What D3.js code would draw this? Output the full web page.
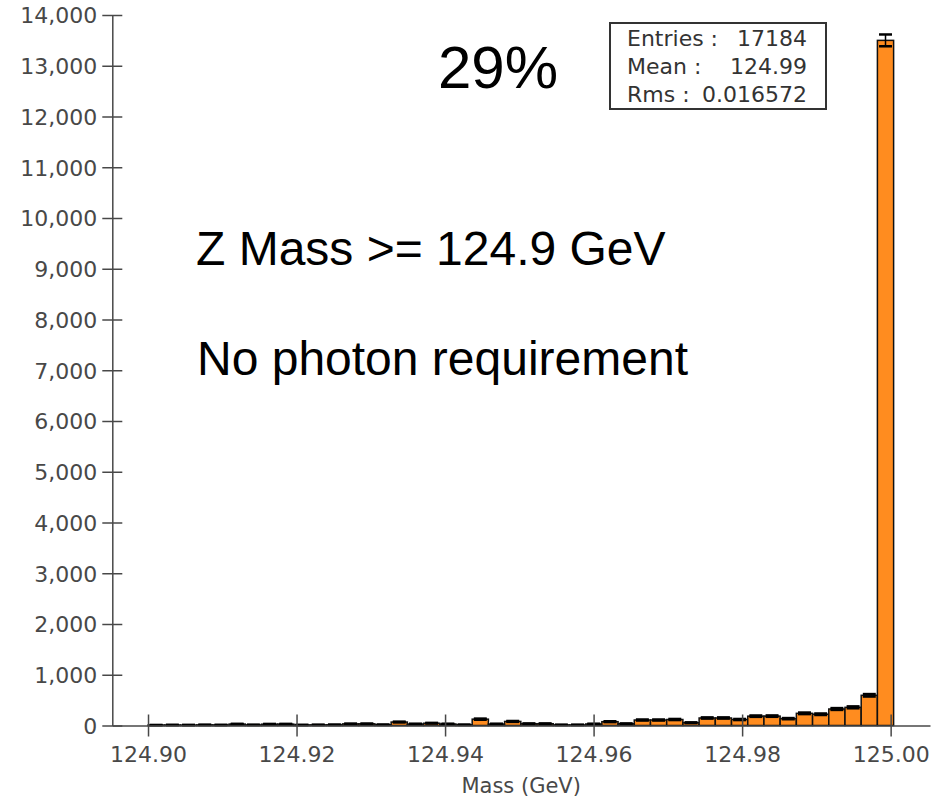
<!DOCTYPE html>
<html>
<head>
<meta charset="utf-8">
<script src="https://cdn.jsdelivr.net/npm/d3@7"></script>
<style>
  html, body { margin: 0; padding: 0; background: #fff; }
  svg { display: block; }
</style>
</head>
<body>
<div id="chart"></div>
<script>
// histogram of Z mass, 46 bins between lowest and highest entry
var BIN_RANGE = [124.9, 125.0004];
var counts = [8, 10, 9, 12, 10, 28, 12, 26, 27, 10,
              12, 14, 32, 33, 15, 68, 30, 45, 30, 14,
              125, 30, 80, 35, 35, 12, 12, 30, 75, 35,
              108, 108, 118, 55, 148, 148, 118, 184, 185, 135,
              240, 222, 325, 358, 595, 13500];
var xTicks = [124.90, 124.92, 124.94, 124.96, 124.98, 125.00];
var yTicks = [0, 1000, 2000, 3000, 4000, 5000, 6000, 7000, 8000, 9000, 10000, 11000, 12000, 13000, 14000];
var statLabels = ['Entries :', 'Mean :', 'Rms :'];
var statValues = ['17184', '124.99', '0.016572'];
var notes = ['29%', 'Z Mass >= 124.9 GeV', 'No photon requirement'];

var WIDTH = 933;
var HEIGHT = 798;
var MARGIN = { top: 15, right: 3, bottom: 72.5, left: 112.3 };
var X_DOMAIN = [124.89519, 125.0053];
var Y_DOMAIN = [0, 14000];
var BAR_COLOR = '#ff8c1f';
var AXIS_COLOR = '#484848';
var TICK_FONT = 22;

var plotW = WIDTH - MARGIN.left - MARGIN.right;
var plotH = HEIGHT - MARGIN.top - MARGIN.bottom;

var x = d3.scaleLinear().domain(X_DOMAIN).range([0, plotW]);
var y = d3.scaleLinear().domain(Y_DOMAIN).range([plotH, 0]);

var binW = (BIN_RANGE[1] - BIN_RANGE[0]) / counts.length;
var bins = counts.map(function (c, i) {
    return { x0: BIN_RANGE[0] + i * binW, x1: BIN_RANGE[0] + (i + 1) * binW, n: c, err: Math.sqrt(c) };
});

var svg = d3.select('#chart').append('svg')
    .attr('width', WIDTH)
    .attr('height', HEIGHT);

var g = svg.append('g')
    .attr('transform', 'translate(' + MARGIN.left + ',' + MARGIN.top + ')');

/** bars */
g.append('g').selectAll('rect').data(bins).enter().append('rect')
    .attr('x', function (d) { return x(d.x0); })
    .attr('width', function (d) { return x(d.x1) - x(d.x0); })
    .attr('y', function (d) { return y(d.n); })
    .attr('height', function (d) { return y(0) - y(d.n); })
    .attr('fill', BAR_COLOR)
    .attr('stroke', '#111')
    .attr('stroke-width', 1.5);

/** error bars: caps at n +- sqrt(n) and a centre line */
var errs = g.append('g').attr('stroke', '#000').attr('stroke-width', 2.5);
bins.forEach(function (d) {
    var cx = (x(d.x0) + x(d.x1)) / 2;
    var half = (x(d.x1) - x(d.x0)) * 0.4;
    errs.append('line')
        .attr('stroke-width', 1.5)
        .attr('x1', cx).attr('x2', cx)
        .attr('y1', y(d.n + d.err)).attr('y2', y(Math.max(0, d.n - d.err)));
    [d.n + d.err, Math.max(0, d.n - d.err)].forEach(function (v) {
        errs.append('line')
            .attr('x1', cx - half).attr('x2', cx + half)
            .attr('y1', y(v)).attr('y2', y(v));
    });
});

/** axes */
function styleAxis(sel) {
    sel.select('.domain').attr('stroke', AXIS_COLOR).attr('stroke-width', 1.5);
    sel.selectAll('.tick line').attr('stroke', AXIS_COLOR).attr('stroke-width', 1.5);
    sel.selectAll('.tick text')
        .attr('fill', AXIS_COLOR)
        .style('font-family', 'DejaVu Sans, sans-serif')
        .style('font-size', TICK_FONT + 'px');
}

var xAxis = g.append('g')
    .attr('transform', 'translate(0,' + plotH + ')')
    .call(d3.axisBottom(x).tickValues(xTicks).tickFormat(d3.format('.2f'))
        .tickSizeInner(11).tickSizeOuter(0).tickPadding(10));
xAxis.selectAll('.tick line').attr('y1', -11);
styleAxis(xAxis);

var yAxis = g.append('g')
    .call(d3.axisLeft(y).tickValues(yTicks).tickFormat(d3.format(','))
        .tickSizeInner(10).tickSizeOuter(0).tickPadding(5));
yAxis.selectAll('.tick line').attr('x1', 10);
yAxis.selectAll('.tick text').attr('dy', '0.36em');
styleAxis(yAxis);

g.append('text')
    .attr('x', plotW / 2)
    .attr('y', plotH + 67.5)
    .attr('text-anchor', 'middle')
    .attr('fill', AXIS_COLOR)
    .style('font-family', 'DejaVu Sans, sans-serif')
    .style('font-size', '21px')
    .text('Mass (GeV)');

/** statistics box */
var box = svg.append('g').attr('transform', 'translate(610,23)');
box.append('rect')
    .attr('width', 216)
    .attr('height', 86)
    .attr('fill', '#fff')
    .attr('stroke', '#333')
    .attr('stroke-width', 2);
statLabels.forEach(function (lab, i) {
    box.append('text')
        .attr('x', 17)
        .attr('y', 23 + i * 27.8)
        .attr('fill', '#333')
        .style('font-family', 'DejaVu Sans, sans-serif')
        .style('font-size', '22px')
        .text(lab);
    box.append('text')
        .attr('x', 197)
        .attr('y', 23 + i * 27.8)
        .attr('text-anchor', 'end')
        .attr('fill', '#333')
        .style('font-family', 'DejaVu Sans, sans-serif')
        .style('font-size', '22px')
        .text(statValues[i]);
});

/** annotations */
var NOTE_POS = [[438, 88, 60], [196, 264.5, 48], [197, 375, 48]];
notes.forEach(function (t, i) {
    svg.append('text')
        .attr('x', NOTE_POS[i][0])
        .attr('y', NOTE_POS[i][1])
        .attr('fill', '#000')
        .style('font-family', '"Liberation Sans", Arial, sans-serif')
        .style('font-size', NOTE_POS[i][2] + 'px')
        .text(t);
});
</script>
</body>
</html>
